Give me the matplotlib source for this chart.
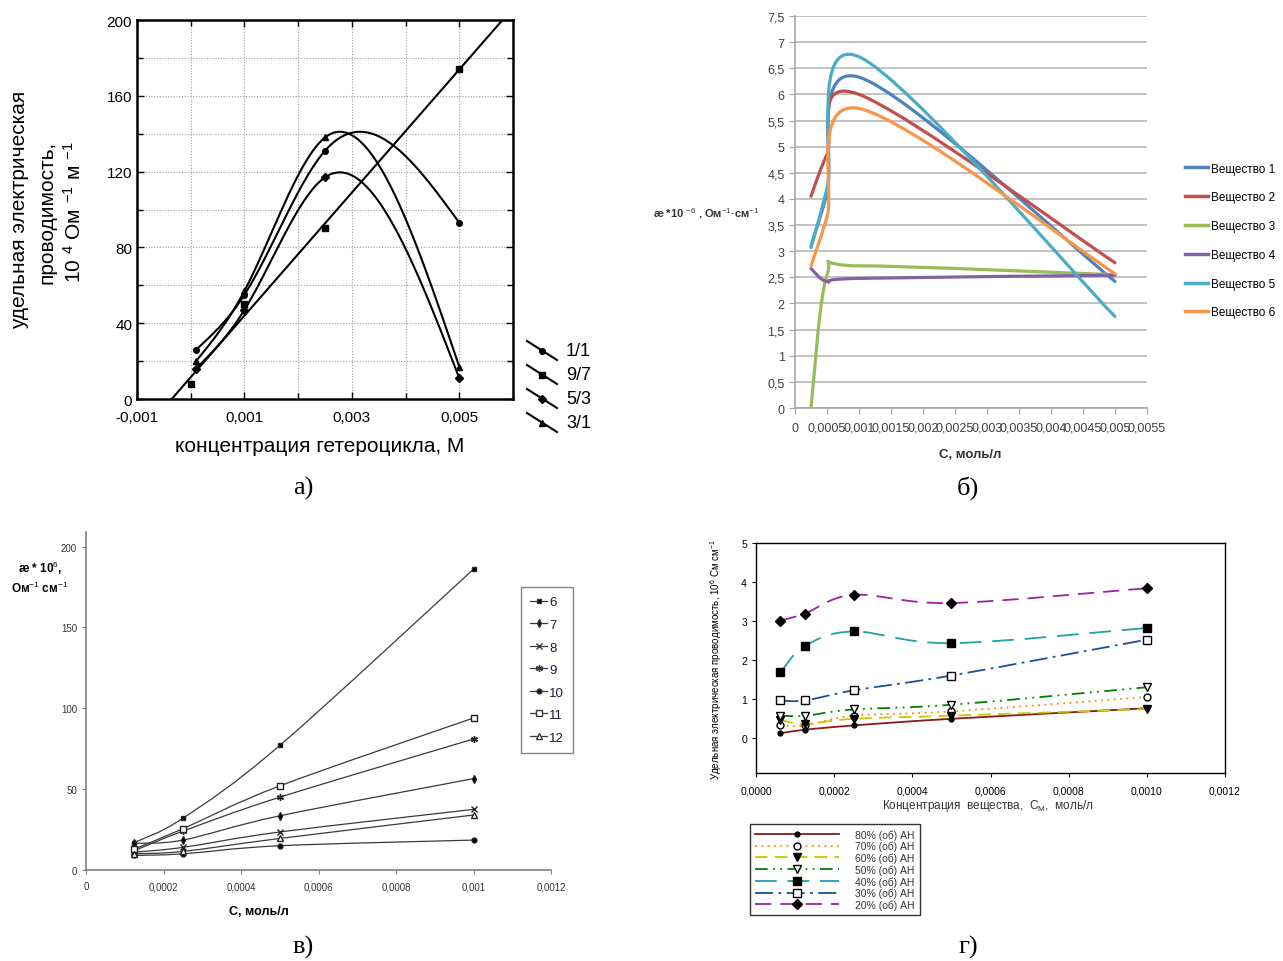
import numpy as np
import matplotlib
matplotlib.use('Agg')
import matplotlib.pyplot as plt
from matplotlib.path import Path
from matplotlib.patches import PathPatch
from matplotlib.lines import Line2D
from matplotlib.ticker import MultipleLocator, FixedLocator, FuncFormatter

plt.rcParams['font.family'] = ['Liberation Sans', 'DejaVu Sans']
plt.rcParams['mathtext.fontset'] = 'custom'
plt.rcParams['mathtext.rm'] = 'Liberation Sans'
plt.rcParams['mathtext.it'] = 'Liberation Sans:italic'
plt.rcParams['mathtext.bf'] = 'Liberation Sans:bold'

# ---------------- panel а data ----------------
a_labels = ['1/1', '9/7', '5/3', '3/1']
a_x_11 = [0.0001, 0.001, 0.0025, 0.005]
a_y_11 = [26, 55, 131, 93]
a_x_97 = [0.0, 0.001, 0.0025, 0.005]
a_y_97 = [8, 50, 90, 174]
a_x_53 = [0.0001, 0.001, 0.0025, 0.005]
a_y_53 = [16, 47, 117, 11]
a_x_31 = [0.0001, 0.001, 0.0025, 0.005]
a_y_31 = [20, 57, 138, 17]

# ---------------- panel б data ----------------
b_x = [0.00025, 0.0005, 0.001, 0.005]
b_names = ['Вещество 1', 'Вещество 2', 'Вещество 3', 'Вещество 4', 'Вещество 5', 'Вещество 6']
b_y1 = [3.10, 4.10, 6.33, 2.42]
b_y2 = [4.05, 4.85, 6.00, 2.78]
b_y3 = [0.00, 2.55, 2.72, 2.55]
b_y4 = [2.67, 2.42, 2.48, 2.54]
b_y5 = [3.07, 4.20, 6.72, 1.75]
b_y6 = [2.72, 3.65, 5.73, 2.57]

# ---------------- panel в data ----------------
c_x = [0.000125, 0.00025, 0.0005, 0.001]
c_names = ['6', '7', '8', '9', '10', '11', '12']
c_y6 = [17, 32, 77, 186]
c_y7 = [16.5, 18.5, 33.5, 56.5]
c_y8 = [11, 14, 23.5, 37.5]
c_y9 = [12, 24, 45, 81]
c_y10 = [9, 10, 15, 18.5]
c_y11 = [13, 25.5, 52, 94]
c_y12 = [10, 11.5, 19.5, 34]

# ---------------- panel г data ----------------
d_x = [0.0000625, 0.000125, 0.00025, 0.0005, 0.001]
d_names = ['80% (об) АН', '70% (об) АН', '60% (об) АН', '50% (об) АН',
           '40% (об) АН', '30% (об) АН', '20% (об) АН']
d_80 = [0.12, 0.21, 0.32, 0.49, 0.76]
d_70 = [0.32, 0.32, 0.57, 0.68, 1.05]
d_60 = [0.46, 0.36, 0.49, 0.57, 0.74]
d_50 = [0.57, 0.57, 0.73, 0.85, 1.30]
d_40 = [1.68, 2.36, 2.73, 2.43, 2.82]
d_30 = [0.96, 0.96, 1.22, 1.60, 2.52]
d_20 = [3.01, 3.19, 3.67, 3.46, 3.84]

W, H = 1283, 962
fig = plt.figure(figsize=(W / 100, H / 100), dpi=100)


def fx(px):
    return px / W


def fy(py):
    return 1 - py / H


def axes_px(l, t, r, b):
    return fig.add_axes([l / W, 1 - b / H, (r - l) / W, (b - t) / H])


def smooth_path(xs, ys, k=1 / 6):
    p = np.column_stack([xs, ys]).astype(float)
    n = len(p)
    verts = [p[0]]
    codes = [Path.MOVETO]
    for i in range(n - 1):
        p0 = p[i - 1] if i > 0 else p[i]
        p1 = p[i]
        p2 = p[i + 1]
        p3 = p[i + 2] if i + 2 < n else p[i + 1]
        verts += [p1 + (p2 - p0) * k, p2 - (p3 - p1) * k, p2]
        codes += [Path.CURVE4] * 3
    return Path(verts, codes)


def add_smooth(ax, xs, ys, **kw):
    patch = PathPatch(smooth_path(xs, ys), fill=False, **kw)
    ax.add_patch(patch)
    return patch


def natural_spline(xs, ys, xg):
    x = np.asarray(xs, float)
    y = np.asarray(ys, float)
    n = len(x)
    h = np.diff(x)
    A = np.zeros((n, n))
    r = np.zeros(n)
    A[0, 0] = A[-1, -1] = 1
    for i in range(1, n - 1):
        A[i, i - 1] = h[i - 1]
        A[i, i] = 2 * (h[i - 1] + h[i])
        A[i, i + 1] = h[i]
        r[i] = 6 * ((y[i + 1] - y[i]) / h[i] - (y[i] - y[i - 1]) / h[i - 1])
    M = np.linalg.solve(A, r)
    idx = np.clip(np.searchsorted(x, xg) - 1, 0, n - 2)
    x0, x1 = x[idx], x[idx + 1]
    hh = x1 - x0
    t0 = x1 - xg
    t1 = xg - x0
    return (M[idx] * t0 ** 3 / (6 * hh) + M[idx + 1] * t1 ** 3 / (6 * hh)
            + (y[idx] / hh - M[idx] * hh / 6) * t0 + (y[idx + 1] / hh - M[idx + 1] * hh / 6) * t1)


def comma_fmt(dec=None):
    def f(v, pos):
        if dec is None:
            s = f'{v:.6f}'.rstrip('0').rstrip('.')
            if s in ('-0', ''):
                s = '0'
        else:
            s = f'{v:.{dec}f}'
        return s.replace('.', ',')
    return FuncFormatter(f)


# ======================= panel а =======================
axA = axes_px(137, 21, 513, 400)
axA.set_xlim(-0.001, 0.006)
axA.set_ylim(0, 200)
axA.xaxis.set_major_locator(FixedLocator([-0.001, 0.001, 0.003, 0.005]))
axA.xaxis.set_minor_locator(FixedLocator([0.0, 0.002, 0.004]))
axA.yaxis.set_major_locator(MultipleLocator(40))
axA.yaxis.set_minor_locator(MultipleLocator(20))
axA.xaxis.set_major_formatter(comma_fmt(3))
axA.grid(which='both', ls=(0, (1, 1.5)), color='#a0a0a0', lw=0.8)
axA.set_axisbelow(True)
axA.tick_params(which='both', direction='in', top=True, right=True,
                labelsize=11, color='k')
axA.tick_params(which='major', length=5, width=1)
axA.tick_params(which='minor', length=4, width=1)
axA.tick_params(axis='x', pad=8)
for s in axA.spines.values():
    s.set_linewidth(1.8)

# linear fit for 9/7
c97 = np.polyfit(a_x_97, a_y_97, 1)
xx = np.array([-0.001, 0.006])
axA.plot(xx, np.polyval(c97, xx), color='k', lw=1.5)
axA.plot(a_x_97, a_y_97, 's', color='k', ms=5)

a_markers = {'1/1': 'o', '5/3': 'D', '3/1': '^'}
for lab, xs, ys in [('1/1', a_x_11, a_y_11), ('5/3', a_x_53, a_y_53), ('3/1', a_x_31, a_y_31)]:
    xg = np.linspace(min(xs), max(xs), 300)
    axA.plot(xg, natural_spline(xs, ys, xg), color='k', lw=1.5)
    axA.plot(xs, ys, a_markers[lab], color='k', ms=4)

fig.text(fx(320), fy(447), 'концентрация гетероцикла, М', ha='center', va='center', fontsize=15)
fig.text(fx(20), fy(210), 'удельная электрическая', rotation=90, ha='center', va='center', fontsize=15)
fig.text(fx(47), fy(212), 'проводимость,', rotation=90, ha='center', va='center', fontsize=15)
fig.text(fx(74), fy(212), r'10 $^{4}$ Ом $^{-1}$ м $^{-1}$', rotation=90, ha='center', va='center', fontsize=15)

leg_markers = ['o', 's', 'D', '^']
for i, lab in enumerate(a_labels):
    yc = 352 + 24 * i
    fig.add_artist(Line2D([fx(527), fx(557)], [fy(yc - 10), fy(yc + 9)], color='k', lw=1.5,
                          transform=fig.transFigure))
    fig.add_artist(Line2D([fx(542)], [fy(yc)], marker=leg_markers[i], color='k', ms=4,
                          transform=fig.transFigure))
    fig.text(fx(566), fy(yc), lab, ha='left', va='center', fontsize=13)

# ======================= panel б =======================
axB = axes_px(795, 17, 1147, 409)
axB.set_xlim(0, 0.0055)
axB.set_ylim(0, 7.5)
axB.xaxis.set_major_locator(MultipleLocator(0.0005))
axB.yaxis.set_major_locator(MultipleLocator(0.5))
axB.xaxis.set_major_formatter(comma_fmt())
axB.yaxis.set_major_formatter(comma_fmt())
axB.grid(axis='y', color='#bdbdbd', lw=1.3)
axB.set_axisbelow(True)
for s in ['top', 'right']:
    axB.spines[s].set_visible(False)
for s in ['left', 'bottom']:
    axB.spines[s].set_color('#a6a6a6')
    axB.spines[s].set_linewidth(1.2)
axB.tick_params(direction='out', length=4, color='#a6a6a6', labelsize=9, labelcolor='#404040')
axB.tick_params(axis='x', pad=6)

b_colors = ['#4F81BD', '#C0504D', '#9BBB59', '#8064A2', '#4BACC6', '#F79646']
b_series = [b_y1, b_y2, b_y3, b_y4, b_y5, b_y6]
for ys, col in zip(b_series, b_colors):
    add_smooth(axB, b_x, ys, edgecolor=col, lw=2.3, capstyle='round', joinstyle='round')

b_handles = [Line2D([], [], color=c, lw=2.5) for c in b_colors]
axB.legend(b_handles, b_names, loc='center left', bbox_to_anchor=(fx(1180), fy(241.5)),
           bbox_transform=fig.transFigure, frameon=False, fontsize=8.5, handlelength=2.0,
           labelspacing=1.42, handletextpad=0.2, borderaxespad=0)
fig.text(fx(706), fy(214), r'æ *10 $^{-6}$ , Ом$^{-1}$·см$^{-1}$', ha='center', va='center',
         fontsize=8, weight='bold', color='#333333')
fig.text(fx(970), fy(455), 'C, моль/л', ha='center', va='center', fontsize=9.5, weight='bold',
         color='#333333')

# ======================= panel в =======================
axC = axes_px(86, 533, 551, 871)
axC.set_xlim(0, 0.0012)
axC.set_ylim(0, 209)
axC.xaxis.set_major_locator(MultipleLocator(0.0002))
axC.yaxis.set_major_locator(FixedLocator([0, 50, 100, 150, 200]))
axC.xaxis.set_major_formatter(comma_fmt())
for s in ['top', 'right']:
    axC.spines[s].set_visible(False)
for s in ['left', 'bottom']:
    axC.spines[s].set_color('#808080')
    axC.spines[s].set_linewidth(1.2)
axC.tick_params(direction='out', length=3, color='#808080', labelsize=7, labelcolor='#333333')
axC.tick_params(axis='x', pad=5)

c_series = [c_y6, c_y7, c_y8, c_y9, c_y10, c_y11, c_y12]
c_marks = [dict(marker='s', ms=3, mfc='k'),
           dict(marker='d', ms=4, mfc='k'),
           dict(marker='x', ms=4, mew=1.0),
           dict(marker=(6, 2, 0), ms=5, mew=1.0),
           dict(marker='o', ms=3.5, mfc='k'),
           dict(marker='s', ms=4, mfc='white'),
           dict(marker='^', ms=4, mfc='white')]
for ys, mk in zip(c_series, c_marks):
    add_smooth(axC, c_x, ys, edgecolor='#3a3a3a', lw=0.9)
    axC.plot(c_x, ys, ls='none', color='#222222', **mk)

c_handles = [Line2D([], [], color='#3a3a3a', lw=0.9, **mk) for mk in c_marks]
legC = axC.legend(c_handles, c_names, loc='upper left', bbox_to_anchor=(fx(521), fy(588)),
                  bbox_transform=fig.transFigure, fontsize=9.5, handlelength=1.3,
                  handletextpad=0.15, labelspacing=0.78, borderpad=0.7, fancybox=False,
                  edgecolor='#666666', numpoints=1, borderaxespad=0)
legC.get_frame().set_linewidth(1.0)
for t in legC.get_texts():
    t.set_color('#1a1a3a')
fig.text(fx(40), fy(578), 'æ * 10$^{6}$,\nОм$^{-1}$ см$^{-1}$', ha='center', va='center',
         fontsize=8.5, weight='bold', linespacing=1.3)
fig.text(fx(259), fy(912), 'C, моль/л', ha='center', va='center', fontsize=9, weight='bold')

# ======================= panel г =======================
axD = axes_px(756, 544, 1225, 774)
axD.set_xlim(0, 0.0012)
axD.set_ylim(-0.9, 5)
axD.xaxis.set_major_locator(MultipleLocator(0.0002))
axD.yaxis.set_major_locator(FixedLocator([0, 1, 2, 3, 4, 5]))
axD.xaxis.set_major_formatter(comma_fmt(4))
axD.tick_params(direction='out', length=3, labelsize=7.5, color='k')
axD.tick_params(axis='x', pad=6)
for s in axD.spines.values():
    s.set_linewidth(1.0)

d_series = [d_80, d_70, d_60, d_50, d_40, d_30, d_20]
d_colors = ['#8B1A1A', '#FF8C00', '#C8C800', '#008000', '#20A0A0', '#1F4E9A', '#A020A0']
d_ls = ['-', (0, (1, 2.5)), (0, (7, 4)), (0, (7, 3, 1, 3, 1, 3)), (0, (12, 6)),
        (0, (10, 3, 1.5, 3)), (0, (9, 5))]
d_marks = [dict(marker='o', ms=3.5, mfc='k', mec='k'),
           dict(marker='o', ms=5, mfc='white', mec='k'),
           dict(marker='v', ms=5.5, mfc='k', mec='k'),
           dict(marker='v', ms=5.5, mfc='white', mec='k'),
           dict(marker='s', ms=5.5, mfc='k', mec='k'),
           dict(marker='s', ms=5.5, mfc='white', mec='k'),
           dict(marker='D', ms=5, mfc='k', mec='k')]
for ys, col, ls, mk in zip(d_series, d_colors, d_ls, d_marks):
    add_smooth(axD, d_x, ys, edgecolor=col, lw=1.3, linestyle=ls)
    axD.plot(d_x, ys, ls='none', zorder=3, **mk)

d_handles = [Line2D([], [], color=col, lw=1.3, linestyle=ls, **mk)
             for col, ls, mk in zip(d_colors, d_ls, d_marks)]
legD = axD.legend(d_handles, d_names, loc='upper left', bbox_to_anchor=(fx(750), fy(825)),
                  bbox_transform=fig.transFigure, fontsize=7.5, handlelength=8.0,
                  handletextpad=1.6, labelspacing=0.12, borderpad=0.5, fancybox=False,
                  edgecolor='k', numpoints=1, borderaxespad=0)
legD.get_frame().set_linewidth(1.0)
for t in legD.get_texts():
    t.set_color('#333333')
fig.text(fx(716), fy(660), 'Удельная электрическая проводимость, 10$^{6}$ См см$^{-1}$',
         rotation=90, ha='center', va='center', fontsize=7)
fig.text(fx(988), fy(806), r'Концентрация  вещества,  С$_{\mathrm{M}}$,  моль/л', ha='center',
         va='center', fontsize=8.5, color='#333333')

# panel letters
for txt, x, y in [('а)', 303, 488), ('б)', 968, 488), ('в)', 303, 947), ('г)', 968, 947)]:
    fig.text(fx(x), fy(y), txt, ha='center', va='center', fontsize=19, family='Liberation Serif')

fig.savefig('out.png', dpi=100, facecolor='white')
